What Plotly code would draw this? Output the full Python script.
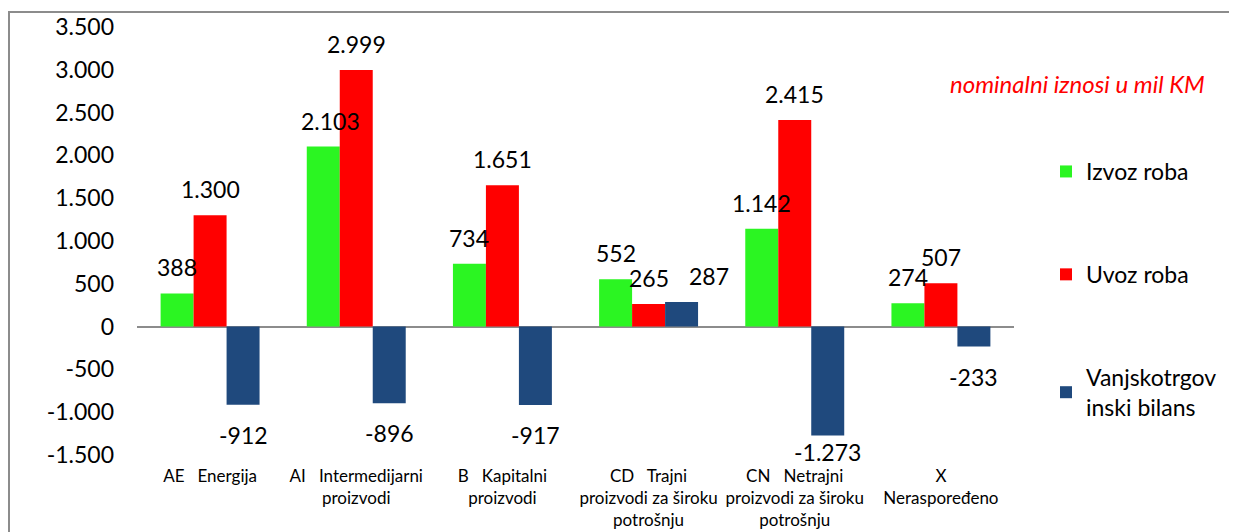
import plotly.graph_objects as go

categories = [
    "AE&nbsp;&nbsp;&nbsp;Energija",
    "AI&nbsp;&nbsp;&nbsp;Intermedijarni<br>proizvodi",
    "B&nbsp;&nbsp;&nbsp;Kapitalni<br>proizvodi",
    "CD&nbsp;&nbsp;&nbsp;Trajni<br>proizvodi za široku<br>potrošnju",
    "CN&nbsp;&nbsp;&nbsp;Netrajni<br>proizvodi za široku<br>potrošnju",
    "X<br>Neraspoređeno",
]
izvoz = [388, 2103, 734, 552, 1142, 274]
uvoz = [1300, 2999, 1651, 265, 2415, 507]
bilans = [-912, -896, -917, 287, -1273, -233]

series_names = ["Izvoz roba", "Uvoz roba", "Vanjskotrgov<br>inski bilans"]
series_values = [izvoz, uvoz, bilans]
series_colors = ["#2BF522", "#FF0000", "#1F497D"]

y_tickvals = [3500, 3000, 2500, 2000, 1500, 1000, 500, 0, -500, -1000, -1500]
note_text = "nominalni iznosi u mil KM"

# manual horizontal nudges of individual data labels (series index, category index) -> px
label_xshift = {(0, 1): 7, (2, 3): 27}

FONT = "Lato"
YMIN, YMAX = -1500, 3500
OFF = 8  # page body margin added by the browser
W, H = 1237, 532
# target plot area in page pixels: x 137..1014, y 27..455
L = 137 - OFF
T = 27 - OFF
pw, ph = 877, 428
R = W - L - pw
B = H - T - ph
units_per_px = (YMAX - YMIN) / ph
BARGAP = 0.323
bar_w = (1 - BARGAP) / 3


def fmt(v):
    s = f"{abs(v):,}".replace(",", ".")
    return ("-" if v < 0 else "") + s


def px_x(px):
    return (px - OFF - L) / pw


def px_y(py):
    return (T + ph - (py - OFF)) / ph


fig = go.Figure()
xs = list(range(len(categories)))
for k, (name, vals, col) in enumerate(zip(series_names, series_values, series_colors)):
    fig.add_trace(go.Bar(
        x=xs, y=vals, name=name, marker=dict(color=col, line=dict(width=0)),
        legendgroup=f"g{k}",
    ))
    for i, v in enumerate(vals):
        if v >= 0:
            ly = v + 26 * units_per_px
        else:
            ly = max(v - 30 * units_per_px, YMIN + 3 * units_per_px)
        fig.add_annotation(
            x=i + (k - 1) * bar_w, y=ly, xref="x", yref="y",
            xshift=label_xshift.get((k, i), 0),
            text=fmt(v), showarrow=False, yanchor="middle", xanchor="center",
            font=dict(family=FONT, size=23, color="black"),
        )

fig.add_annotation(
    x=px_x(1077), y=px_y(83), xref="paper", yref="paper", text=f"<i>{note_text}</i>",
    showarrow=False, xanchor="center", yanchor="middle",
    font=dict(family=FONT, size=24, color="#FF0000"),
)

# outer frame
fig.add_shape(
    type="rect", xref="paper", yref="paper",
    x0=px_x(9), x1=px_x(1270),
    y0=px_y(570), y1=px_y(12),
    line=dict(color="#8C8C8C", width=2), fillcolor="rgba(0,0,0,0)", layer="below",
)

fig.update_layout(
    width=W, height=H,
    margin=dict(l=L, r=R, t=T, b=B, autoexpand=False),
    paper_bgcolor="white", plot_bgcolor="white",
    barmode="group", bargap=BARGAP, bargroupgap=0,
    font=dict(family=FONT, color="black"),
    showlegend=True,
    legend=dict(
        x=px_x(1046), y=px_y(150), xanchor="left", yanchor="top",
        font=dict(family=FONT, size=23, color="black"),
        tracegroupgap=70, itemwidth=30, bgcolor="rgba(0,0,0,0)",
    ),
    xaxis=dict(
        range=[-0.5, len(categories) - 0.5],
        tickvals=xs, ticktext=categories, tickangle=0,
        tickfont=dict(family=FONT, size=17, color="black"),
        showline=False, showgrid=False, zeroline=False, ticks="",
        ticklabelstandoff=9, automargin=False,
    ),
    yaxis=dict(
        range=[YMIN, YMAX], tickvals=y_tickvals, ticktext=[fmt(v) for v in y_tickvals],
        tickfont=dict(family=FONT, size=23, color="black"),
        showgrid=False, showline=False, ticks="",
        zeroline=True, zerolinecolor="#8C8C8C", zerolinewidth=2,
        ticklabelstandoff=22, automargin=False,
    ),
)

fig.write_html("out.html")
